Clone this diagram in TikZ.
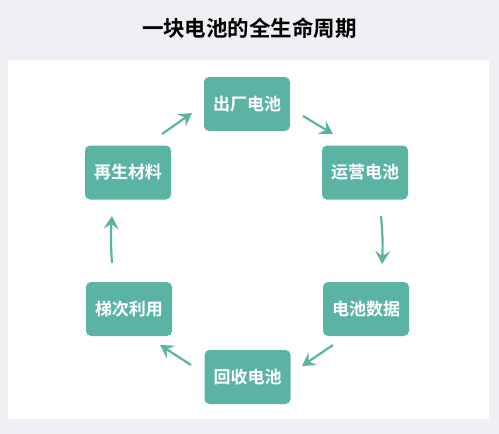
\documentclass[tikz,border=0pt]{standalone}
\usepackage{fontspec}
\newfontfamily\cjk{Noto Sans CJK SC}[BoldFont={Noto Sans CJK SC Bold}]
\usetikzlibrary{arrows.meta}
\definecolor{bgc}{RGB}{239,239,244}
\definecolor{teal1}{RGB}{91,180,163}
\tikzset{
  stage/.style={fill=teal1, rounded corners=5pt, minimum width=86pt, minimum height=54pt,
    inner sep=0pt, text=white, font=\cjk\bfseries\fontsize{17}{20}\selectfont},
  flow/.style={draw=teal1, line width=2.2pt, -{Stealth[length=13pt,width=15pt,inset=5pt]}}
}
\begin{document}
\begin{tikzpicture}[x=1pt,y=-1pt]
\fill[bgc] (0,0) rectangle (499,434);
\useasboundingbox (0,0) rectangle (499,434);
\fill[white] (8,60) rectangle (489,419);
\node[font=\cjk\bfseries\fontsize{21.5}{26}\selectfont] (title) at (249.5,28) {一块电池的全生命周期};
\node[stage] (a) at (247,104) {出厂电池};
\node[stage] (b) at (365,172.5) {运营电池};
\node[stage] (c) at (366,309) {电池数据};
\node[stage] (d) at (247.5,377) {回收电池};
\node[stage] (e) at (129,309) {梯次利用};
\node[stage] (f) at (128,172.5) {再生材料};
\coordinate (a1) at (303,116); \coordinate (a2) at (333,134);
\coordinate (b1) at (381,216); \coordinate (b2) at (382,264);
\coordinate (c1) at (333,345); \coordinate (c2) at (302,366);
\coordinate (d1) at (191,365); \coordinate (d2) at (160,345);
\coordinate (e1) at (112,263); \coordinate (e2) at (112,216);
\coordinate (f1) at (162,134); \coordinate (f2) at (192,113);
\draw[flow] (a1) -- (a2);
\draw[flow] (b1) to[bend left=4] (b2);
\draw[flow] (c1) -- (c2);
\draw[flow] (d1) -- (d2);
\draw[flow] (e1) to[bend left=4] (e2);
\draw[flow] (f1) -- (f2);
\end{tikzpicture}
\end{document}
